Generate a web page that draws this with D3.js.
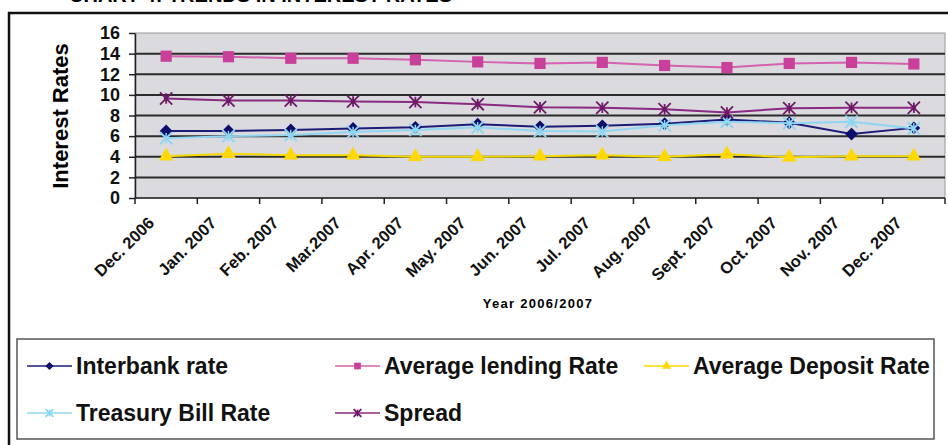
<!DOCTYPE html>
<html>
<meta charset="utf-8">
<head>
	<script src="https://d3js.org/d3.v7.min.js"></script>
	<style>
		body { margin: 0; background: #fff; }
		svg { font-family: "Liberation Sans", Arial, sans-serif; font-weight: bold; }
		.grid line { stroke: #2b2b2b; stroke-width: 2px; }
		.axis path, .axis line { stroke: #222; stroke-width: 1.5px; }
		.axis text { fill: #111; font-weight: bold; }
	</style>
</head>
<body>
<script>
	// months on the x axis
	var months = ["Dec. 2006", "Jan. 2007", "Feb. 2007", "Mar.2007", "Apr. 2007", "May. 2007",
		"Jun. 2007", "Jul. 2007", "Aug. 2007", "Sept. 2007", "Oct. 2007", "Nov. 2007", "Dec. 2007"];

	// values
	var interbank = [6.5, 6.5, 6.6, 6.75, 6.85, 7.15, 6.9, 7.0, 7.2, 7.6, 7.3, 6.2, 6.8];
	var lending   = [13.75, 13.7, 13.55, 13.55, 13.4, 13.2, 13.05, 13.15, 12.85, 12.65, 13.05, 13.15, 13.0];
	var deposit   = [4.05, 4.3, 4.15, 4.15, 4.0, 4.0, 4.05, 4.15, 4.0, 4.25, 3.95, 4.05, 4.05];
	var tbill     = [5.8, 6.0, 6.1, 6.4, 6.6, 6.85, 6.5, 6.45, 7.05, 7.4, 7.25, 7.4, 6.75];
	var spread    = [9.65, 9.45, 9.45, 9.35, 9.3, 9.1, 8.8, 8.75, 8.6, 8.3, 8.7, 8.75, 8.75];

	var yTicks = [0, 2, 4, 6, 8, 10, 12, 14, 16];

	var series = [
		{name: "Interbank rate", values: interbank, line: "#1c1c78", fill: "#0d0d6b", shape: "diamond"},
		{name: "Average lending Rate", values: lending, line: "#d462ae", fill: "#c8409a", shape: "square"},
		{name: "Average Deposit Rate", values: deposit, line: "#f5d800", fill: "#ffd800", shape: "triangle"},
		{name: "Treasury Bill Rate", values: tbill, line: "#8fd6f2", fill: "#8fd6f2", shape: "x"},
		{name: "Spread", values: spread, line: "#8a2a80", fill: "#6e1a66", shape: "star"}
	];

	var width = 948, height = 445;
	var plot = {left: 135, right: 945, top: 33, bottom: 198};

	var svg = d3.select("body").append("svg")
		.attr("width", width)
		.attr("height", height);

	// title, mostly above the top edge as in the scan
	svg.append("text")
		.attr("x", 452).attr("y", 2)
		.attr("text-anchor", "end")
		.style("font-size", "20px")
		.text("CHART 4: TRENDS IN INTEREST RATES");

	// outer frame
	svg.append("path")
		.attr("d", "M9," + (height + 5) + "V13H" + (width + 5))
		.attr("fill", "none")
		.attr("stroke", "#111")
		.attr("stroke-width", 2.5);

	var x = d3.scaleBand().domain(months).range([plot.left, plot.right]);
	var y = d3.scaleLinear().domain([0, 16]).range([plot.bottom, plot.top]);

	// plot background
	svg.append("rect")
		.attr("x", plot.left).attr("y", plot.top)
		.attr("width", plot.right - plot.left).attr("height", plot.bottom - plot.top)
		.attr("fill", "#dadadf")
		.attr("stroke", "#9a9a9a")
		.attr("stroke-width", 1);

	svg.append("g")
		.attr("class", "grid")
		.selectAll("line")
		.data(yTicks.filter(function(d) { return d > 0 && d < 16; }))
		.enter().append("line")
		.attr("x1", plot.left).attr("x2", plot.right)
		.attr("y1", function(d) { return y(d); })
		.attr("y2", function(d) { return y(d); });

	// y axis
	var yAxis = svg.append("g")
		.attr("class", "axis")
		.attr("transform", "translate(" + plot.left + ",0)")
		.call(d3.axisLeft(y).tickValues(yTicks).tickSize(6).tickSizeOuter(0).tickPadding(9));
	yAxis.selectAll("text").style("font-size", "18px");

	// x axis, ticks on band edges
	var xAxis = svg.append("g")
		.attr("class", "axis")
		.attr("transform", "translate(0," + plot.bottom + ")");
	xAxis.append("line")
		.attr("x1", plot.left).attr("x2", plot.right);
	var edges = months.map(function(m) { return x(m); }).concat([plot.right]);
	xAxis.selectAll(".tk")
		.data(edges).enter().append("line")
		.attr("class", "tk")
		.attr("x1", function(d) { return d; }).attr("x2", function(d) { return d; })
		.attr("y1", 0).attr("y2", 6);
	xAxis.selectAll(".lbl")
		.data(months).enter().append("text")
		.attr("class", "lbl")
		.attr("text-anchor", "end")
		.style("font-size", "16.5px")
		.attr("transform", function(d) {
			return "translate(" + (x(d) + x.bandwidth() / 2 - 11) + ",26) rotate(-45)";
		})
		.text(function(d) { return d; });

	// axis titles
	svg.append("text")
		.attr("transform", "translate(68,116) rotate(-90)")
		.attr("text-anchor", "middle")
		.style("font-size", "22px")
		.text("Interest Rates");
	svg.append("text")
		.attr("x", 538).attr("y", 308)
		.attr("text-anchor", "middle")
		.style("font-size", "13px")
		.style("letter-spacing", "1.3px")
		.text("Year 2006/2007");

	// marker shapes
	function marker(sel, s, size) {
		var r = Math.sqrt(size) / 2;
		if (s.shape == "diamond") {
			sel.append("path").attr("d", d3.symbol(d3.symbolSquare, size * 0.75)())
				.attr("transform", "rotate(45)")
				.attr("fill", s.fill);
		} else if (s.shape == "square") {
			sel.append("path").attr("d", d3.symbol(d3.symbolSquare, size)())
				.attr("fill", s.fill);
		} else if (s.shape == "triangle") {
			sel.append("path").attr("d", d3.symbol(d3.symbolTriangle, size * 0.85)())
				.attr("fill", s.fill);
		} else if (s.shape == "x") {
			sel.append("path").attr("d", d3.symbol(d3.symbolTimes, size * 0.9)())
				.attr("fill", "none").attr("stroke", s.fill).attr("stroke-width", 2);
			sel.append("path").attr("d", "M0," + (-r) + "V" + r)
				.attr("stroke", s.fill).attr("stroke-width", 1.5);
		} else {
			sel.append("path").attr("d", d3.symbol(d3.symbolTimes, size * 0.9)())
				.attr("fill", "none").attr("stroke", s.fill).attr("stroke-width", 1.8);
			sel.append("path").attr("d", "M0," + (-r) + "V" + r)
				.attr("stroke", s.fill).attr("stroke-width", 1.8);
			sel.append("circle").attr("r", r * 0.45).attr("fill", s.fill);
		}
	}

	var line = d3.line()
		.x(function(d, i) { return x(months[i]) + x.bandwidth() / 2; })
		.y(function(d) { return y(d); });

	series.forEach(function(s) {
		svg.append("path")
			.datum(s.values)
			.attr("d", line)
			.attr("fill", "none")
			.attr("stroke", s.line)
			.attr("stroke-width", 2);
		s.values.forEach(function(v, i) {
			var g = svg.append("g")
				.attr("transform", "translate(" + (x(months[i]) + x.bandwidth() / 2) + "," + y(v) + ")");
			marker(g, s, s.shape == "square" ? 125 : 110);
		});
	});

	// legend
	svg.append("rect")
		.attr("x", 17).attr("y", 339)
		.attr("width", 917).attr("height", 100)
		.attr("fill", "#fff")
		.attr("stroke", "#555")
		.attr("stroke-width", 1.5);

	var legendPos = [[27, 366], [335, 366], [644, 366], [27, 413], [335, 413]];
	series.forEach(function(s, i) {
		var g = svg.append("g")
			.attr("transform", "translate(" + legendPos[i][0] + "," + legendPos[i][1] + ")");
		g.append("line")
			.attr("x1", 0).attr("x2", 45)
			.attr("stroke", s.line).attr("stroke-width", 1.5);
		var m = g.append("g").attr("transform", "translate(22.5,0)");
		marker(m, s, 45);
		g.append("text")
			.attr("x", 49).attr("y", 8)
			.style("font-size", "23px")
			.attr("fill", "#111")
			.text(s.name);
	});
</script>
</body>
</html>
